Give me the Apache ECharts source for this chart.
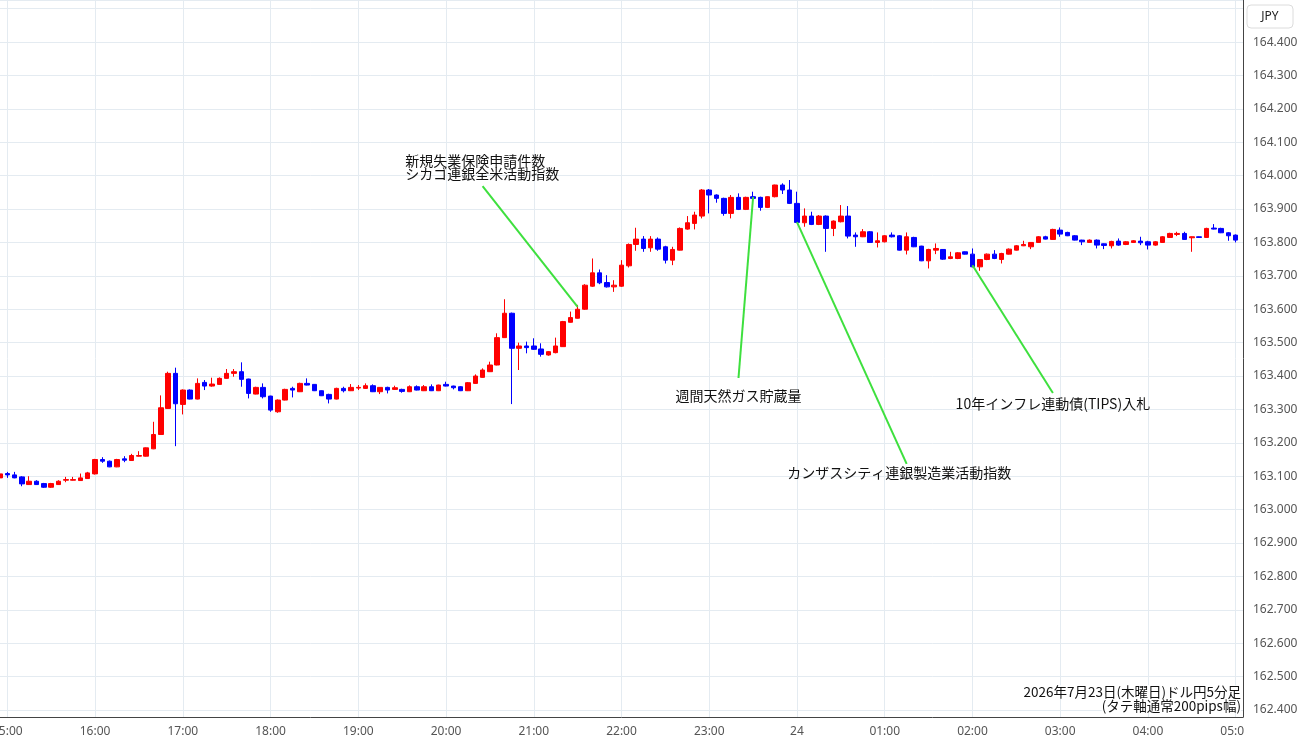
<!DOCTYPE html>
<html>
<head>
<meta charset="utf-8">
<script src="https://cdn.jsdelivr.net/npm/echarts@6/dist/echarts.min.js"></script>
<style>
  html, body { margin: 0; padding: 0; background: #fff; }
  #chart { width: 1300px; height: 745px; }
</style>
</head>
<body>
<div id="chart"></div>
<script>
// USD/JPY 5 minute bars, 2026-07-23 14:55 -> 05:00 (+ one empty slot at 05:05)
var barCount = 171;
var times = [];
for (var k = 0; k < barCount; k++) {
    var m = (14 * 60 + 55 + 5 * k) % 1440;
    var hh = Math.floor(m / 60), mm = m % 60;
    times.push((hh < 10 ? '0' : '') + hh + ':' + (mm < 10 ? '0' : '') + mm);
}

// [open, close, low, high]
var candles = [
    [163.095, 163.107, 163.094, 163.108], [163.108, 163.104, 163.095, 163.113], [163.104, 163.095, 163.094, 163.113],
    [163.098, 163.077, 163.070, 163.100], [163.075, 163.085, 163.074, 163.100], [163.085, 163.075, 163.074, 163.088],
    [163.078, 163.067, 163.065, 163.080], [163.067, 163.078, 163.065, 163.080], [163.075, 163.085, 163.074, 163.088],
    [163.088, 163.090, 163.082, 163.098], [163.088, 163.090, 163.087, 163.098], [163.087, 163.095, 163.086, 163.108],
    [163.093, 163.110, 163.092, 163.113], [163.107, 163.150, 163.105, 163.152], [163.150, 163.145, 163.140, 163.157],
    [163.145, 163.128, 163.127, 163.147], [163.128, 163.150, 163.127, 163.152], [163.152, 163.148, 163.142, 163.160],
    [163.147, 163.162, 163.146, 163.167], [163.160, 163.162, 163.159, 163.175], [163.160, 163.185, 163.159, 163.186],
    [163.182, 163.225, 163.181, 163.263], [163.225, 163.305, 163.224, 163.342], [163.303, 163.408, 163.302, 163.413],
    [163.408, 163.317, 163.190, 163.425], [163.315, 163.358, 163.285, 163.360], [163.358, 163.331, 163.330, 163.360],
    [163.331, 163.378, 163.330, 163.393], [163.381, 163.370, 163.358, 163.388], [163.370, 163.376, 163.368, 163.395],
    [163.375, 163.393, 163.374, 163.396], [163.393, 163.408, 163.392, 163.421], [163.408, 163.413, 163.398, 163.421],
    [163.413, 163.390, 163.368, 163.441], [163.391, 163.348, 163.333, 163.392], [163.346, 163.366, 163.345, 163.368],
    [163.366, 163.338, 163.333, 163.378], [163.340, 163.298, 163.293, 163.341], [163.293, 163.328, 163.290, 163.330],
    [163.328, 163.360, 163.327, 163.362], [163.363, 163.358, 163.336, 163.368], [163.353, 163.378, 163.352, 163.380],
    [163.378, 163.373, 163.372, 163.393], [163.375, 163.356, 163.355, 163.376], [163.356, 163.341, 163.340, 163.357],
    [163.345, 163.331, 163.318, 163.347], [163.331, 163.363, 163.330, 163.365], [163.363, 163.356, 163.351, 163.368],
    [163.356, 163.366, 163.355, 163.376], [163.364, 163.366, 163.358, 163.373], [163.363, 163.371, 163.362, 163.378],
    [163.371, 163.353, 163.352, 163.375], [163.353, 163.366, 163.346, 163.367], [163.366, 163.358, 163.348, 163.368],
    [163.360, 163.365, 163.359, 163.371], [163.360, 163.354, 163.350, 163.362], [163.353, 163.368, 163.352, 163.372],
    [163.368, 163.358, 163.357, 163.372], [163.356, 163.368, 163.355, 163.373], [163.368, 163.356, 163.355, 163.375],
    [163.356, 163.373, 163.355, 163.374], [163.375, 163.370, 163.369, 163.383], [163.370, 163.365, 163.360, 163.371],
    [163.368, 163.356, 163.355, 163.370], [163.356, 163.380, 163.355, 163.382], [163.378, 163.400, 163.377, 163.405],
    [163.396, 163.418, 163.395, 163.423], [163.413, 163.433, 163.412, 163.443], [163.433, 163.515, 163.432, 163.528],
    [163.515, 163.588, 163.514, 163.630], [163.588, 163.483, 163.316, 163.590], [163.483, 163.490, 163.418, 163.500],
    [163.490, 163.485, 163.468, 163.503], [163.490, 163.480, 163.478, 163.513], [163.481, 163.465, 163.458, 163.498],
    [163.463, 163.473, 163.461, 163.475], [163.470, 163.490, 163.468, 163.515], [163.488, 163.563, 163.487, 163.565],
    [163.561, 163.575, 163.560, 163.593], [163.573, 163.600, 163.572, 163.613], [163.600, 163.672, 163.598, 163.675],
    [163.669, 163.709, 163.667, 163.752], [163.709, 163.679, 163.675, 163.719], [163.680, 163.667, 163.665, 163.702],
    [163.667, 163.672, 163.652, 163.687], [163.669, 163.732, 163.667, 163.747], [163.730, 163.794, 163.725, 163.797],
    [163.794, 163.810, 163.775, 163.844], [163.810, 163.782, 163.772, 163.819], [163.784, 163.810, 163.772, 163.819],
    [163.810, 163.780, 163.775, 163.815], [163.787, 163.747, 163.737, 163.790], [163.747, 163.779, 163.732, 163.787],
    [163.777, 163.842, 163.776, 163.845], [163.840, 163.859, 163.838, 163.879], [163.857, 163.882, 163.839, 163.892],
    [163.879, 163.957, 163.872, 163.960], [163.957, 163.942, 163.887, 163.960], [163.942, 163.932, 163.919, 163.944],
    [163.932, 163.887, 163.880, 163.934], [163.887, 163.935, 163.872, 163.942], [163.935, 163.899, 163.897, 163.947],
    [163.899, 163.935, 163.897, 163.937], [163.937, 163.932, 163.922, 163.952], [163.935, 163.905, 163.895, 163.937],
    [163.905, 163.937, 163.903, 163.938], [163.937, 163.972, 163.935, 163.973], [163.972, 163.957, 163.945, 163.977],
    [163.957, 163.917, 163.915, 163.987], [163.917, 163.860, 163.858, 163.952], [163.859, 163.879, 163.847, 163.902],
    [163.879, 163.854, 163.852, 163.892], [163.854, 163.879, 163.852, 163.882], [163.879, 163.842, 163.772, 163.881],
    [163.842, 163.864, 163.819, 163.866], [163.862, 163.879, 163.860, 163.912], [163.879, 163.819, 163.812, 163.909],
    [163.822, 163.817, 163.787, 163.830], [163.817, 163.832, 163.816, 163.840], [163.832, 163.800, 163.799, 163.834],
    [163.800, 163.805, 163.785, 163.830], [163.802, 163.820, 163.800, 163.822], [163.822, 163.817, 163.815, 163.830],
    [163.820, 163.777, 163.776, 163.822], [163.777, 163.817, 163.764, 163.830], [163.815, 163.787, 163.786, 163.817],
    [163.789, 163.745, 163.744, 163.790], [163.745, 163.779, 163.722, 163.781], [163.777, 163.782, 163.765, 163.797],
    [163.779, 163.750, 163.748, 163.780], [163.752, 163.757, 163.750, 163.772], [163.752, 163.769, 163.750, 163.771],
    [163.772, 163.765, 163.764, 163.773], [163.765, 163.727, 163.726, 163.782], [163.727, 163.749, 163.715, 163.750],
    [163.749, 163.765, 163.747, 163.767], [163.765, 163.752, 163.750, 163.777], [163.749, 163.767, 163.737, 163.769],
    [163.765, 163.780, 163.764, 163.782], [163.777, 163.790, 163.776, 163.792], [163.790, 163.794, 163.789, 163.805],
    [163.787, 163.800, 163.780, 163.801], [163.800, 163.817, 163.799, 163.819], [163.817, 163.810, 163.809, 163.820],
    [163.809, 163.839, 163.808, 163.841], [163.837, 163.825, 163.817, 163.845], [163.830, 163.820, 163.819, 163.832],
    [163.820, 163.807, 163.806, 163.822], [163.807, 163.802, 163.792, 163.808], [163.800, 163.807, 163.799, 163.809],
    [163.807, 163.792, 163.782, 163.809], [163.796, 163.791, 163.780, 163.797], [163.790, 163.803, 163.782, 163.805],
    [163.804, 163.792, 163.790, 163.812], [163.794, 163.802, 163.792, 163.804], [163.800, 163.805, 163.799, 163.807],
    [163.804, 163.799, 163.792, 163.817], [163.802, 163.792, 163.779, 163.805], [163.792, 163.802, 163.790, 163.804],
    [163.800, 163.817, 163.799, 163.819], [163.815, 163.827, 163.814, 163.829], [163.824, 163.827, 163.819, 163.832],
    [163.827, 163.809, 163.808, 163.832], [163.814, 163.817, 163.772, 163.818], [163.817, 163.815, 163.814, 163.818],
    [163.815, 163.842, 163.814, 163.844], [163.843, 163.840, 163.839, 163.855], [163.842, 163.829, 163.828, 163.844],
    [163.829, 163.820, 163.805, 163.831], [163.822, 163.807, 163.800, 163.824]
];

// economic events: text, where the pointer touches the candles, where the pointer ends, where the text sits
var eventNames = ['新規失業保険申請件数\nシカゴ連銀全米活動指数', '週間天然ガス貯蔵量', 'カンザスシティ連銀製造業活動指数', '10年インフレ連動債(TIPS)入札'];
var eventHitTimes = ['21:30', '23:30', '00:00', '02:00'];
var eventHitPrices = [163.607, 163.936, 163.861, 163.732];
var eventEndTimes = ['20:25', '23:20', '01:15', '02:55'];
var eventEndPrices = [163.969, 163.394, 163.137, 163.349];
var eventTextTimes = ['19:30', '23:20', '01:10', '02:55'];
var eventTextPrices = [164.026, 163.340, 163.110, 163.316];

var yMin = 162.379, yMax = 164.526;
var noteLines = ['2026年7月23日(木曜日)ドル円5分足', '(タテ軸通常200pips幅)'];

var isHour = function (index, value) { return value.slice(3) === '00'; };

var lineData = [], pointData = [];
for (var e = 0; e < eventNames.length; e++) {
    lineData.push([
        { coord: [eventHitTimes[e], eventHitPrices[e]] },
        { coord: [eventEndTimes[e], eventEndPrices[e]] }
    ]);
    pointData.push({
        coord: [eventTextTimes[e], eventTextPrices[e]],
        label: e === 0 ? { align: 'left', offset: [3, 0] } : {}
    });
}

var cjk = '"Noto Sans CJK JP", "Noto Sans", sans-serif';
var myChart = echarts.init(document.getElementById('chart'));
var option = {
    animation: false,
    backgroundColor: '#fff',
    grid: { left: 0, right: 57, top: 0, bottom: 28, containLabel: false, outerBoundsMode: 'none' },
    xAxis: {
        type: 'category',
        data: times,
        boundaryGap: false,
        axisLine: { lineStyle: { color: '#444', width: 1 } },
        axisTick: { show: false },
        axisLabel: {
            interval: isHour,
            margin: 9,
            color: '#555',
            fontSize: 12,
            fontFamily: '"Noto Sans", sans-serif',
            formatter: function (v) { return v === '00:00' ? '24' : v; }
        },
        splitLine: { show: true, interval: isHour, lineStyle: { color: '#e4ebf1', width: 1 } }
    },
    yAxis: {
        type: 'value',
        position: 'right',
        min: yMin,
        max: yMax,
        splitNumber: 21,
        minInterval: 0.1,
        maxInterval: 0.1,
        scale: true,
        axisLine: { show: true, lineStyle: { color: '#444', width: 1 } },
        axisTick: { show: false },
        axisLabel: {
            showMinLabel: false,
            showMaxLabel: false,
            margin: 10,
            color: '#555',
            fontSize: 12,
            fontFamily: '"Noto Sans", sans-serif',
            formatter: function (v) { return v > 164.45 || v < 162.39 ? '' : v.toFixed(3); }
        },
        splitLine: { show: true, lineStyle: { color: '#e4ebf1', width: 1 } }
    },
    series: [{
        type: 'candlestick',
        data: candles,
        barWidth: 5,
        itemStyle: {
            color: '#ff0000',
            color0: '#0000ff',
            borderColor: '#ff0000',
            borderColor0: '#0000ff',
            borderWidth: 1
        },
        markLine: {
            silent: true,
            symbol: ['none', 'none'],
            label: { show: false },
            lineStyle: { color: '#3ee03e', width: 2, type: 'solid' },
            data: lineData
        },
        markPoint: {
            silent: true,
            symbol: 'circle',
            symbolSize: 0,
            label: {
                show: true,
                position: 'inside',
                color: '#111',
                fontSize: 14,
                lineHeight: 13,
                fontFamily: cjk,
                formatter: function (p) { return eventNames[p.dataIndex]; }
            },
            data: pointData
        }
    }],
    graphic: [
        {
            type: 'rect', z: 100,
            shape: { x: 1244, y: 719, width: 56, height: 26 },
            style: { fill: '#fff' }
        },
        {
            type: 'rect', z: 100,
            shape: { x: 1247, y: 5, width: 46, height: 23, r: 4 },
            style: { fill: '#fff', stroke: '#dcdcdc', lineWidth: 1 }
        },
        {
            type: 'text', z: 101,
            style: { x: 1270, y: 16.5, text: 'JPY', textAlign: 'center', textVerticalAlign: 'middle',
                     fill: '#222', font: '12px "Noto Sans", sans-serif' }
        },
        {
            type: 'text', z: 101,
            style: { x: 1241, y: 692, text: noteLines[0], textAlign: 'right', textVerticalAlign: 'middle',
                     fill: '#111', font: '13.5px ' + cjk, backgroundColor: '#fff' }
        },
        {
            type: 'text', z: 101,
            style: { x: 1241, y: 706, text: noteLines[1], textAlign: 'right', textVerticalAlign: 'middle',
                     fill: '#111', font: '13.5px ' + cjk, backgroundColor: '#fff' }
        }
    ]
};
myChart.setOption(option);
</script>
</body>
</html>
